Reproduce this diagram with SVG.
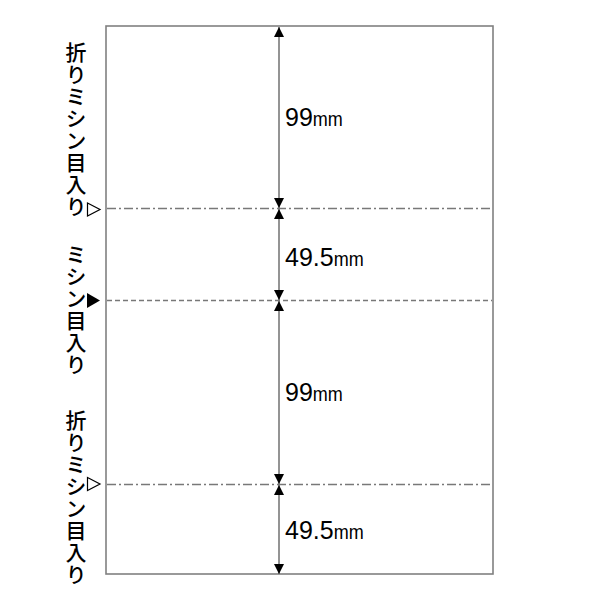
<svg xmlns="http://www.w3.org/2000/svg" width="600" height="600" viewBox="0 0 600 600">
<style>
.sheet{fill:#fff;stroke:#808080;stroke-width:1.6}
.dimline{stroke:#707070;stroke-width:1.5;fill:none}
.dashdot{stroke:#787878;stroke-width:1.3;stroke-dasharray:9,3,2,3;fill:none}
.dashed{stroke:#787878;stroke-width:1.3;stroke-dasharray:5,3;fill:none}
.dim{font-family:"Liberation Sans",Arial,sans-serif;font-size:25px;fill:#000}
.unit{font-size:20px}
.vlabel{font-family:"Noto Sans CJK JP","Noto Sans",sans-serif;font-size:21px;font-weight:500;fill:#000;writing-mode:vertical-rl;letter-spacing:0.9px}
.tri-open{fill:#fff;stroke:#000;stroke-width:1.2}
.tri-fill{fill:#000}
</style>
<defs>
<marker id="arr" viewBox="0 0 10 10" refX="10" refY="5" markerWidth="10" markerHeight="10" markerUnits="userSpaceOnUse" orient="auto">
<path d="M0,0 L10,5 L0,10 Z" fill="#000"/>
</marker>
</defs>
<g id="sheet">
<rect class="sheet" x="106" y="26" width="387" height="548"/>
</g>
<g id="connectors">
<line class="dashdot" x1="107" y1="208.5" x2="492" y2="208.5"/>
<line class="dashed" x1="107" y1="300.5" x2="492" y2="300.5"/>
<line class="dashdot" x1="107" y1="484.5" x2="492" y2="484.5"/>
<line class="dimline" x1="279" y1="116" x2="279" y2="27" marker-end="url(#arr)"/>
<line class="dimline" x1="279" y1="116" x2="279" y2="208" marker-end="url(#arr)"/>
<line class="dimline" x1="279" y1="254" x2="279" y2="209" marker-end="url(#arr)"/>
<line class="dimline" x1="279" y1="254" x2="279" y2="300" marker-end="url(#arr)"/>
<line class="dimline" x1="279" y1="392" x2="279" y2="301" marker-end="url(#arr)"/>
<line class="dimline" x1="279" y1="392" x2="279" y2="484" marker-end="url(#arr)"/>
<line class="dimline" x1="279" y1="529" x2="279" y2="485" marker-end="url(#arr)"/>
<line class="dimline" x1="279" y1="529" x2="279" y2="574" marker-end="url(#arr)"/>
</g>
<g id="dim1"><text class="dim" x="285" y="126">99<tspan class="unit" textLength="30" lengthAdjust="spacingAndGlyphs">mm</tspan></text></g>
<g id="dim2"><text class="dim" x="285" y="266">49.5<tspan class="unit" textLength="30" lengthAdjust="spacingAndGlyphs">mm</tspan></text></g>
<g id="dim3"><text class="dim" x="285" y="401">99<tspan class="unit" textLength="30" lengthAdjust="spacingAndGlyphs">mm</tspan></text></g>
<g id="dim4"><text class="dim" x="285" y="539">49.5<tspan class="unit" textLength="30" lengthAdjust="spacingAndGlyphs">mm</tspan></text></g>
<g id="label1">
<text class="vlabel" x="76" y="42">折りミシン目入り</text>
<polygon class="tri-open" points="87.5,203 100,209.5 87.5,216"/>
</g>
<g id="label2">
<text class="vlabel" x="76" y="244">ミシン目入り</text>
<polygon class="tri-fill" points="87,293 100,300.5 87,308"/>
</g>
<g id="label3">
<text class="vlabel" x="76" y="410">折りミシン目入り</text>
<polygon class="tri-open" points="87.5,477.5 100,484 87.5,490.5"/>
</g>
</svg>
